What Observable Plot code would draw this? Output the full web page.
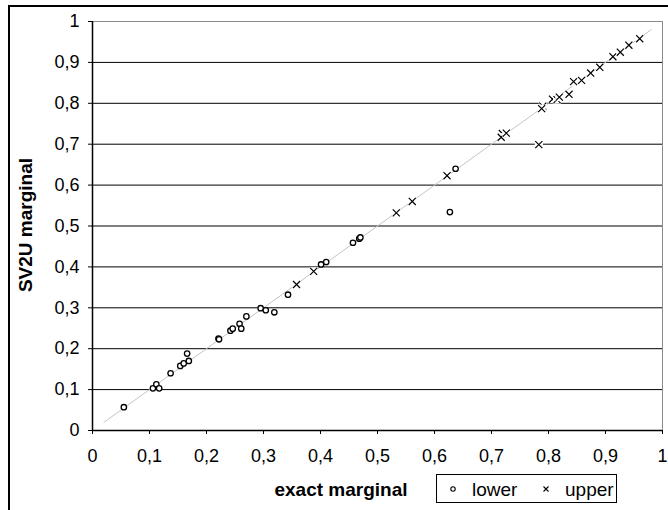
<!DOCTYPE html>
<html><head><meta charset="utf-8">
<script src="https://cdn.jsdelivr.net/npm/d3@7"></script>
<script src="https://cdn.jsdelivr.net/npm/@observablehq/plot@0.6"></script>
<style>
html,body{margin:0;padding:0;background:#fff;}
#wrap{position:relative;width:668px;height:510px;overflow:hidden;font-family:"Liberation Sans",Arial,sans-serif;color:#000;}
#frame{position:absolute;left:8px;top:5px;width:720px;height:600px;border-left:2px solid #000;border-top:2px solid #000;}
#chart{position:absolute;left:0;top:0;}
.title{position:absolute;font-weight:bold;font-size:19px;white-space:nowrap;line-height:1;}
#ytitle{left:25px;top:225px;transform:translate(-50%,-50%) rotate(-90deg);}
#xtitle{left:341px;top:489px;transform:translate(-50%,-50%);}
#legend{position:absolute;left:436px;top:474px;width:181px;height:29px;box-sizing:border-box;border:1px solid #000;background:#fff;}
#legend svg{position:absolute;left:0;top:0;}
</style>
</head><body>
<div id="wrap">
  <div id="frame"></div>
  <div id="chart"></div>
  <div id="ytitle" class="title"></div>
  <div id="xtitle" class="title"></div>
  <div id="legend"></div>
</div>
<script>
// ---- data ----
const xTitle = "exact marginal";
const yTitle = "SV2U marginal";
const seriesNames = ["lower", "upper"];
const ticks = [0, 0.1, 0.2, 0.3, 0.4, 0.5, 0.6, 0.7, 0.8, 0.9, 1];
const tickLabels = ["0", "0,1", "0,2", "0,3", "0,4", "0,5", "0,6", "0,7", "0,8", "0,9", "1"];
const gridValues = [0.1, 0.2, 0.3, 0.4, 0.5, 0.6, 0.7, 0.8, 0.9];
const refLine = [0.02, 0.98];

const lowerX = [0.055, 0.106, 0.112, 0.117, 0.137, 0.154, 0.160, 0.166, 0.169, 0.221, 0.222, 0.242, 0.246, 0.258, 0.261, 0.270, 0.295, 0.304, 0.319, 0.343, 0.401, 0.410, 0.457, 0.468, 0.470, 0.627, 0.637];
const lowerY = [0.057, 0.103, 0.113, 0.103, 0.140, 0.158, 0.164, 0.188, 0.170, 0.225, 0.223, 0.244, 0.249, 0.261, 0.249, 0.279, 0.299, 0.294, 0.289, 0.332, 0.406, 0.412, 0.459, 0.469, 0.472, 0.534, 0.640];

const upperX = [0.358, 0.388, 0.533, 0.561, 0.622, 0.719, 0.717, 0.726, 0.783, 0.790, 0.788, 0.807, 0.815, 0.819, 0.836, 0.844, 0.858, 0.874, 0.890, 0.913, 0.926, 0.941, 0.960];
const upperY = [0.357, 0.389, 0.532, 0.560, 0.623, 0.726, 0.717, 0.727, 0.699, 0.793, 0.787, 0.810, 0.809, 0.815, 0.822, 0.853, 0.856, 0.874, 0.888, 0.914, 0.925, 0.942, 0.958];

// ---- build ----
const lower = lowerX.map((x, i) => ({x, y: lowerY[i]}));
const upper = upperX.map((x, i) => ({x, y: upperY[i]}));
const diag = refLine.map(v => ({x: v, y: v}));
const fmt = d => tickLabels[ticks.indexOf(d)];

const chart = Plot.plot({
  width: 668, height: 510,
  marginLeft: 92, marginRight: 6, marginTop: 21, marginBottom: 80,
  x: {domain: [0, 1], ticks, tickFormat: fmt, tickSize: 4, tickPadding: 15, label: null},
  y: {domain: [0, 1], ticks, tickFormat: fmt, tickSize: 4, tickPadding: 9, label: null},
  style: {fontFamily: "'Liberation Sans', Arial, sans-serif", fontSize: "18px", color: "#000", background: "transparent", overflow: "visible"},
  marks: [
    Plot.ruleY(gridValues, {stroke: "#000", strokeWidth: 1}),
    Plot.ruleY([1], {stroke: "#8c8c8c", strokeWidth: 1}),
    Plot.ruleX([1], {stroke: "#8c8c8c", strokeWidth: 1}),
    Plot.line(diag, {x: "x", y: "y", stroke: "#c4c4c4", strokeWidth: 1}),
    Plot.ruleX([0], {stroke: "#000", strokeWidth: 1.5}),
    Plot.ruleY([0], {stroke: "#000", strokeWidth: 1.5}),
    Plot.dot(lower, {x: "x", y: "y", r: 2.7, fill: "#fff", stroke: "#000", strokeWidth: 1.3}),
    ...upper.flatMap(d => [
      Plot.dot([d], {x: "x", y: "y", symbol: "square", r: 4.6, fill: "#fff", stroke: "none"}),
      Plot.dot([d], {x: "x", y: "y", symbol: "times", r: 3.3, stroke: "#000", strokeWidth: 1.2})
    ])
  ]
});
document.getElementById("chart").appendChild(chart);
document.getElementById("xtitle").textContent = xTitle;
document.getElementById("ytitle").textContent = yTitle;

// legend
const ns = "http://www.w3.org/2000/svg";
const lg = document.createElementNS(ns, "svg");
lg.setAttribute("width", 179); lg.setAttribute("height", 27);
const items = [{sym: "circle", x: 16}, {sym: "times", x: 109}];
items.forEach((it, i) => {
  let s;
  if (it.sym === "circle") {
    s = document.createElementNS(ns, "circle");
    s.setAttribute("cx", it.x); s.setAttribute("cy", 14); s.setAttribute("r", 2.2);
    s.setAttribute("fill", "#fff"); s.setAttribute("stroke", "#000"); s.setAttribute("stroke-width", 1.1);
  } else {
    s = document.createElementNS(ns, "path");
    const c = it.x, r = 2.5;
    s.setAttribute("d", `M${c-r},${14-r}L${c+r},${14+r}M${c-r},${14+r}L${c+r},${14-r}`);
    s.setAttribute("stroke", "#000"); s.setAttribute("stroke-width", 1.1); s.setAttribute("fill", "none");
  }
  lg.appendChild(s);
  const t = document.createElementNS(ns, "text");
  t.setAttribute("x", it.x + 19); t.setAttribute("y", 20.7);
  t.setAttribute("font-size", 19); t.setAttribute("font-family", "'Liberation Sans', Arial, sans-serif");
  t.textContent = seriesNames[i];
  lg.appendChild(t);
});
document.getElementById("legend").appendChild(lg);
</script>
</body></html>
